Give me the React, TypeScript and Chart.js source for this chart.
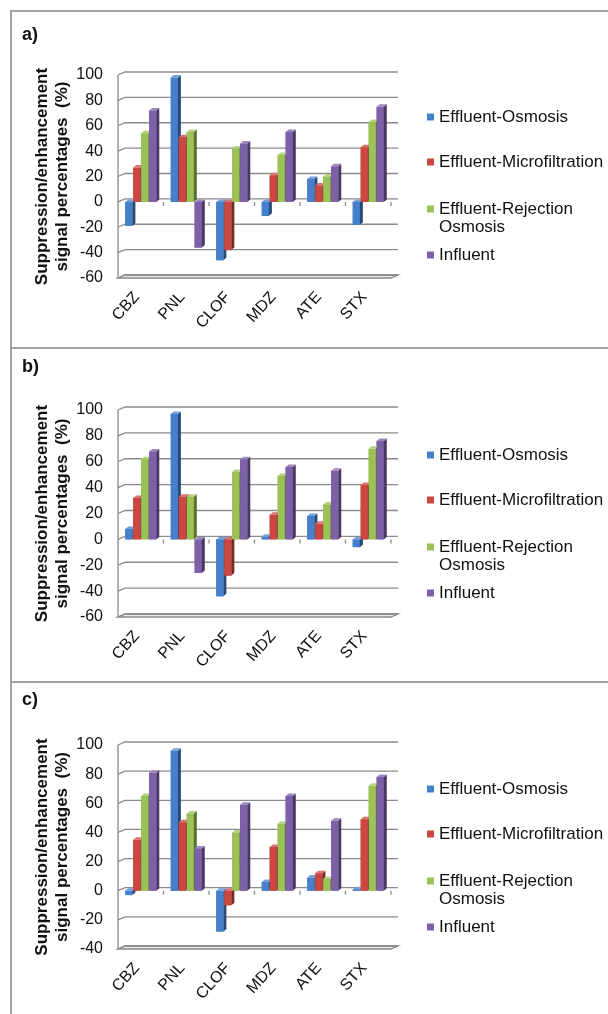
import React, { useEffect, useRef } from 'react';
import { Chart, registerables } from 'chart.js';

Chart.register(...registerables);

const FONT = "'Liberation Sans', Arial, sans-serif";
Chart.defaults.font.family = FONT;

// ---------- data ----------
const categories = ['CBZ', 'PNL', 'CLOF', 'MDZ', 'ATE', 'STX'];
const seriesNames = ['Effluent-Osmosis', 'Effluent-Microfiltration', 'Effluent-Rejection Osmosis', 'Influent'];
const legendLines = [['Effluent-Osmosis'], ['Effluent-Microfiltration'], ['Effluent-Rejection', 'Osmosis'], ['Influent']];
const seriesColors = ['#4680CC', '#CC4741', '#9BC157', '#7D60A8'];
const yTitleLines = ['Suppression/enhancement', 'signal percentages  (%)'];

const aOsmosis = [-19, 98, -46, -11, 18, -18];
const aMicrofiltration = [27, 51, -38, 21, 13, 43];
const aRejection = [54, 55, 42, 37, 20, 63];
const aInfluent = [72, -36, 46, 55, 28, 75];

const bOsmosis = [8, 97, -44, 2, 18, -6];
const bMicrofiltration = [32, 33, -28, 19, 12, 42];
const bRejection = [62, 33, 52, 49, 27, 70];
const bInfluent = [68, -26, 62, 56, 53, 76];

const cOsmosis = [-3, 96, -28, 6, 9, 1];
const cMicrofiltration = [35, 47, -10, 30, 12, 49];
const cRejection = [65, 53, 40, 46, 8, 72];
const cInfluent = [81, 29, 59, 65, 48, 78];

const panelLabels = ['a)', 'b)', 'c)'];
const yMins = [-60, -60, -40];
const yMax = 100;
const yStep = 20;

// ---------- layout ----------
const layouts = [
  { top: 10, height: 338, padTop: 65, xHeight: 70, labelBaseline: 30 },
  { top: 348, height: 334, padTop: 62, xHeight: 65, labelBaseline: 24 },
  { top: 682, height: 332, padTop: 63, xHeight: 65, labelBaseline: 23 },
];
const legendYs = [107, 152, 199, 217, 245];

function shade(hex: string, f: number) {
  const n = parseInt(hex.slice(1), 16);
  let r = (n >> 16) & 255, g = (n >> 8) & 255, b = n & 255;
  if (f < 0) { r = r * (1 + f); g = g * (1 + f); b = b * (1 + f); }
  else { r = r + (255 - r) * f; g = g + (255 - g) * f; b = b + (255 - b) * f; }
  return `rgb(${Math.round(r)},${Math.round(g)},${Math.round(b)})`;
}

const GD = 7, GD2 = 3; // wall depth
const BD = 3, BD2 = 2.5; // bar depth

function makeDecor(panelIndex: number) {
  const lay = layouts[panelIndex];
  return {
    id: 'decor' + panelIndex,
    beforeDatasetsDraw(chart: any) {
      const ctx = chart.ctx;
      const { left, right, top, bottom } = chart.chartArea;
      const ys = chart.scales.y;
      ctx.save();
      // floor
      ctx.beginPath();
      ctx.moveTo(left, bottom);
      ctx.lineTo(right, bottom);
      ctx.lineTo(right + GD, bottom - GD2);
      ctx.lineTo(left + GD, bottom - GD2);
      ctx.closePath();
      ctx.fillStyle = '#ececec';
      ctx.fill();
      ctx.strokeStyle = '#8a8a8a';
      ctx.lineWidth = 1.3;
      ctx.stroke();
      // back wall gridlines
      ctx.beginPath();
      ys.ticks.forEach((t: any) => {
        const y = ys.getPixelForValue(t.value);
        ctx.moveTo(left, y);
        ctx.lineTo(left + GD, y - GD2);
        ctx.lineTo(right + GD, y - GD2);
      });
      ctx.moveTo(left, top);
      ctx.lineTo(left, bottom);
      ctx.stroke();
      // zero-line ticks at category boundaries
      const y0 = ys.getPixelForValue(0);
      const n = categories.length;
      ctx.beginPath();
      for (let i = 1; i <= n; i++) {
        const x = left + ((right - left) * i) / n;
        ctx.moveTo(x, y0);
        ctx.lineTo(x, y0 + 4);
      }
      ctx.stroke();
      ctx.restore();
    },
    afterDatasetsDraw(chart: any) {
      const ctx = chart.ctx;
      ctx.save();
      // redraw left-to-right so each bar's front hides its left neighbour's side face
      for (let di = 0; di < chart.data.datasets.length; di++) {
        const meta = chart.getDatasetMeta(di);
        const color = seriesColors[di];
        meta.data.forEach((bar: any) => {
          bar.draw(ctx, chart.chartArea);
          const p = bar.getProps(['x', 'y', 'base', 'width'], true);
          const l = p.x - p.width / 2;
          const r = p.x + p.width / 2;
          const t = Math.min(p.y, p.base);
          const b = Math.max(p.y, p.base);
          ctx.beginPath();
          ctx.moveTo(r, t);
          ctx.lineTo(r + BD, t - BD2);
          ctx.lineTo(r + BD, b - BD2);
          ctx.lineTo(r, b);
          ctx.closePath();
          ctx.fillStyle = shade(color, -0.42);
          ctx.fill();
          ctx.beginPath();
          ctx.moveTo(l, t);
          ctx.lineTo(l + BD, t - BD2);
          ctx.lineTo(r + BD, t - BD2);
          ctx.lineTo(r, t);
          ctx.closePath();
          ctx.fillStyle = shade(color, 0.25);
          ctx.fill();
        });
      }
      ctx.restore();
    },
    afterDraw(chart: any) {
      const ctx = chart.ctx;
      const { top, bottom } = chart.chartArea;
      const cy = (top + bottom) / 2;
      ctx.save();
      ctx.fillStyle = '#111';
      // y-axis title
      ctx.font = `bold 17px ${FONT}`;
      ctx.textAlign = 'center';
      ctx.textBaseline = 'middle';
      [42, 62].forEach((x, i) => {
        ctx.save();
        ctx.translate(x, cy);
        ctx.rotate(-Math.PI / 2);
        ctx.fillText(yTitleLines[i], 0, 0);
        ctx.restore();
      });
      // panel label
      ctx.font = `bold 18px ${FONT}`;
      ctx.textAlign = 'left';
      ctx.textBaseline = 'alphabetic';
      ctx.fillText(panelLabels[panelIndex], 22, lay.labelBaseline);
      // legend
      ctx.font = `17px ${FONT}`;
      ctx.textBaseline = 'middle';
      let li = 0;
      legendLines.forEach((lines, si) => {
        const y = legendYs[li];
        ctx.fillStyle = seriesColors[si];
        ctx.fillRect(427, y - 3.5, 7, 7);
        ctx.fillStyle = '#111';
        lines.forEach((line) => {
          ctx.fillText(line, 439, legendYs[li]);
          li++;
        });
      });
      ctx.restore();
    },
  };
}

const panelData = [
  [aOsmosis, aMicrofiltration, aRejection, aInfluent],
  [bOsmosis, bMicrofiltration, bRejection, bInfluent],
  [cOsmosis, cMicrofiltration, cRejection, cInfluent],
];

function Panel({ index }: { index: number }) {
  const ref = useRef<HTMLCanvasElement>(null);
  const lay = layouts[index];
  useEffect(() => {
    if (!ref.current) return;
    const chart = new Chart(ref.current, {
      type: 'bar',
      data: {
        labels: categories,
        datasets: panelData[index].map((vals, i) => ({
          label: seriesNames[i],
          data: vals,
          backgroundColor: seriesColors[i],
          borderWidth: 0,
          barPercentage: 0.9,
          categoryPercentage: 0.7,
        })),
      },
      options: {
        responsive: false,
        animation: false,
        events: [],
        layout: { padding: { left: 0, right: 217, top: lay.padTop, bottom: 0 } },
        plugins: { legend: { display: false }, tooltip: { enabled: false } },
        scales: {
          x: {
            grid: { display: false, drawTicks: false },
            border: { display: false },
            ticks: {
              color: '#111',
              font: { size: 16 },
              minRotation: 48,
              maxRotation: 48,
              autoSkip: false,
              padding: 10,
              labelOffset: -4,
            },
            afterFit: (s: any) => { s.height = lay.xHeight; },
          },
          y: {
            min: yMins[index],
            max: yMax,
            grid: { display: false, drawTicks: false },
            border: { display: false },
            ticks: { stepSize: yStep, color: '#111', font: { size: 16 }, padding: 15 },
            afterFit: (s: any) => { s.width = 118; },
          },
        },
      },
      plugins: [makeDecor(index)],
    } as any);
    return () => chart.destroy();
  }, [index]);
  return (
    <canvas
      ref={ref}
      width={608}
      height={lay.height}
      style={{ position: 'absolute', left: 0, top: lay.top, width: 608, height: lay.height }}
    />
  );
}

export default function App() {
  return (
    <div style={{ position: 'absolute', left: 0, top: 0, width: 608, height: 1014, overflow: 'hidden', background: '#fff' }}>
      <Panel index={0} />
      <Panel index={1} />
      <Panel index={2} />
      <div style={{ position: 'absolute', left: 10, top: 10, width: 598, height: 1004, borderLeft: '2px solid #a3a3a3', borderTop: '2px solid #a3a3a3', boxSizing: 'border-box', pointerEvents: 'none' }} />
      <div style={{ position: 'absolute', left: 10, top: 347, width: 598, height: 2, background: '#a3a3a3' }} />
      <div style={{ position: 'absolute', left: 10, top: 681, width: 598, height: 2, background: '#a3a3a3' }} />
    </div>
  );
}
